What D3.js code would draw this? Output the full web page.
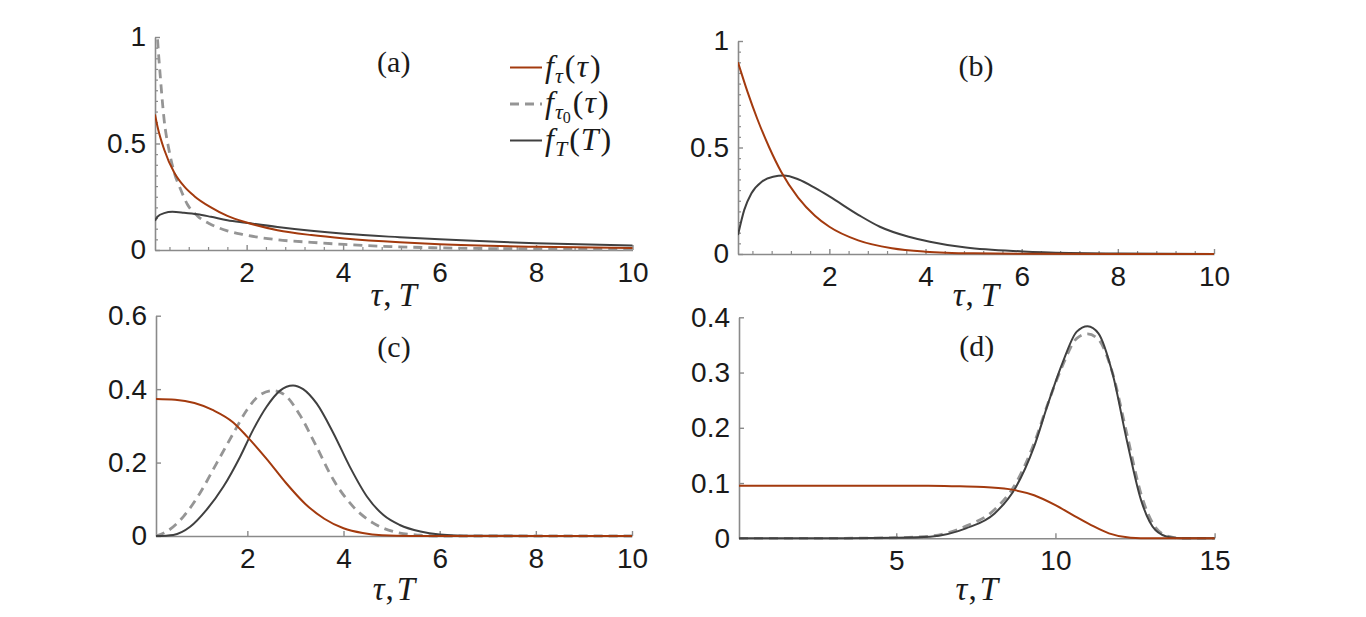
<!DOCTYPE html>
<html>
<head>
<meta charset="utf-8">
<script src="https://cdn.jsdelivr.net/npm/d3@7"></script>
<style>
  body { margin: 0; background: #fff; }
  svg text { fill: #1a1a1a; }
</style>
</head>
<body>
<svg id="chart" width="1366" height="617"></svg>
<script>
/* Four panels of densities f_tau(tau), f_tau0(tau), f_T(T) */

// panel (a)
const aRedX = [0.1, 0.15, 0.29, 0.5, 0.7, 0.91, 1.26, 1.6, 2.0, 2.64, 3.34, 4.03, 5.17, 6, 8, 10];
const aRedY = [0.636, 0.581, 0.472, 0.363, 0.3, 0.254, 0.2, 0.16, 0.129, 0.093, 0.07, 0.054, 0.036, 0.027, 0.015, 0.009];
const aDashX = [0.1, 0.15, 0.215, 0.29, 0.39, 0.5, 0.63, 0.77, 0.98, 1.26, 1.6, 1.94, 2.64, 3.34, 4.03, 5, 6, 8, 10];
const aDashY = [1.2, 1.0, 0.8, 0.61, 0.47, 0.363, 0.285, 0.215, 0.16, 0.12, 0.09, 0.072, 0.048, 0.036, 0.026, 0.016, 0.01, 0.005, 0.003];
const aBlackX = [0.1, 0.15, 0.29, 0.46, 0.7, 0.98, 1.26, 1.6, 1.98, 2.64, 3.34, 4.03, 5.17, 6, 8, 10];
const aBlackY = [0.137, 0.156, 0.173, 0.179, 0.175, 0.168, 0.156, 0.14, 0.128, 0.108, 0.09, 0.076, 0.06, 0.05, 0.032, 0.021];

// panel (b)
const bRedX = [0.1, 0.3, 0.5, 0.75, 1.0, 1.35, 1.7, 2.0, 2.6, 3.3, 4.0, 5.0, 6.0, 8.0, 10];
const bRedY = [0.9, 0.76, 0.635, 0.5, 0.385, 0.265, 0.18, 0.128, 0.064, 0.027, 0.011, 0.003, 0.001, 0, 0];
const bBlackX = [0.1, 0.23, 0.38, 0.6, 0.83, 1.05, 1.35, 1.72, 2.01, 2.61, 3.05, 3.65, 4.09, 4.84, 6.03, 7, 8, 10];
const bBlackY = [0.089, 0.207, 0.285, 0.34, 0.363, 0.368, 0.351, 0.308, 0.269, 0.183, 0.128, 0.081, 0.058, 0.03, 0.012, 0.005, 0.002, 0];

// panel (c)
const cRedX = [0.1, 0.5, 0.9, 1.3, 1.7, 2.0, 2.4, 2.8, 3.2, 3.6, 4.0, 4.4, 4.8, 5.4, 6.0, 8.0, 10];
const cRedY = [0.373, 0.371, 0.362, 0.342, 0.31, 0.27, 0.21, 0.145, 0.088, 0.047, 0.021, 0.008, 0.002, 0, 0, 0, 0];
const cDashX = [0.1, 0.32, 0.67, 1.01, 1.36, 1.71, 1.99, 2.26, 2.54, 2.78, 3.09, 3.44, 3.79, 4.2, 4.62, 5.1, 5.6, 6.0, 8.0, 10];
const cDashY = [0, 0.012, 0.053, 0.116, 0.198, 0.28, 0.343, 0.384, 0.396, 0.384, 0.33, 0.243, 0.153, 0.08, 0.035, 0.01, 0.002, 0, 0, 0];
const cBlackX = [0.1, 0.46, 0.81, 1.15, 1.5, 1.85, 2.12, 2.4, 2.68, 2.95, 3.16, 3.44, 3.79, 4.13, 4.49, 4.83, 5.17, 5.6, 6.0, 6.5, 8.0, 10];
const cBlackY = [0, 0.003, 0.025, 0.071, 0.134, 0.216, 0.289, 0.352, 0.396, 0.41, 0.4, 0.361, 0.28, 0.189, 0.107, 0.057, 0.03, 0.012, 0.004, 0.001, 0, 0];

// panel (d)
const dRedX = [0.06, 3, 6, 7.0, 7.75, 8.54, 9.33, 10.0, 10.55, 11.12, 11.68, 12.36, 13, 15];
const dRedY = [0.095, 0.095, 0.095, 0.094, 0.093, 0.089, 0.078, 0.06, 0.042, 0.024, 0.009, 0.001, 0, 0];
const dDashX = [0.06, 3, 5, 6.06, 7.19, 8.09, 8.76, 9.33, 9.77, 10.22, 10.67, 11.01, 11.35, 11.79, 12.24, 12.69, 13.14, 13.59, 14, 15];
const dDashY = [0, 0, 0.001, 0.004, 0.022, 0.052, 0.1, 0.172, 0.245, 0.312, 0.362, 0.37, 0.36, 0.3, 0.19, 0.08, 0.02, 0.003, 0, 0];
const dBlackX = [0.06, 3, 5, 6.06, 7.19, 8.09, 8.76, 9.33, 9.77, 10.22, 10.67, 11.01, 11.35, 11.79, 12.24, 12.69, 13.14, 13.59, 14, 15];
const dBlackY = [0, 0, 0.001, 0.003, 0.018, 0.045, 0.093, 0.166, 0.244, 0.317, 0.374, 0.384, 0.371, 0.299, 0.178, 0.069, 0.015, 0.002, 0, 0];

// tick labels
const xTicks10 = [2, 4, 6, 8, 10];
const xTicks15 = [5, 10, 15];
const yTicksAB = [0, 0.5, 1];
const yTicksC = [0, 0.2, 0.4, 0.6];
const yTicksD = [0, 0.1, 0.2, 0.3, 0.4];

const RED = '#a33a0e';
const DARK = '#404040';
const GREY = '#959595';
const AXIS = '#8a8a8a';
const SANS = 'Liberation Sans, Arial, sans-serif';
const SERIF = 'Liberation Serif, serif';

const zip = (xs, ys) => xs.map((x, i) => [x, ys[i]]);

const panels = [
  { id: 'a', label: '(a)', xr: [155, 632.5], xd: [0.1, 10], yr: [250, 37], yd: [0, 1],
    xt: xTicks10, yt: yTicksAB, minorX: d3.range(0.4, 10, 0.4), minorY: d3.range(0.05, 1, 0.05),
    gap: 7, labelY: 72, axisLabY: 306,
    red: zip(aRedX, aRedY), dash: zip(aDashX, aDashY), dark: zip(aBlackX, aBlackY) },
  { id: 'b', label: '(b)', xr: [738, 1214], xd: [0.1, 10], yr: [254, 41], yd: [0, 1],
    xt: xTicks10, yt: yTicksAB, minorX: d3.range(0.4, 10, 0.4), minorY: d3.range(0.05, 1, 0.05),
    gap: 7, labelY: 76, axisLabY: 306,
    red: zip(bRedX, bRedY), dash: null, dark: zip(bBlackX, bBlackY) },
  { id: 'c', label: '(c)', xr: [156, 632], xd: [0.1, 10], yr: [536, 315.7], yd: [0, 0.6],
    xt: xTicks10, yt: yTicksC, minorX: [], minorY: [],
    gap: 3, labelY: 357, axisLabY: 600,
    red: zip(cRedX, cRedY), dash: zip(cDashX, cDashY), dark: zip(cBlackX, cBlackY) },
  { id: 'd', label: '(d)', xr: [739, 1214.6], xd: [0.06, 15], yr: [538.3, 317.3], yd: [0, 0.4],
    xt: xTicks15, yt: yTicksD, minorX: [], minorY: [],
    gap: 3, labelY: 356, axisLabY: 600,
    red: zip(dRedX, dRedY), dash: zip(dDashX, dDashY), dark: zip(dBlackX, dBlackY) }
];

const svg = d3.select('svg#chart');

panels.forEach((p) => {
  const x = d3.scaleLinear().domain(p.xd).range(p.xr);
  const y = d3.scaleLinear().domain(p.yd).range(p.yr);
  const g = svg.append('g').attr('class', 'panel-' + p.id);

  // clip the curves to the plot box
  g.append('clipPath').attr('id', 'clip-' + p.id)
    .append('rect')
    .attr('x', p.xr[0]).attr('y', p.yr[1])
    .attr('width', p.xr[1] - p.xr[0] + 2).attr('height', p.yr[0] - p.yr[1] + 2);

  // minor ticks first, without labels
  g.append('g')
    .attr('transform', `translate(0,${p.yr[0]})`)
    .call(d3.axisBottom(x).tickValues(p.minorX.filter((v) => Math.abs(v / 2 - Math.round(v / 2)) > 0.01))
      .tickSizeInner(-3).tickSizeOuter(0).tickFormat(''))
    .call((a) => a.select('.domain').remove())
    .call((a) => a.selectAll('line').attr('stroke', AXIS).attr('stroke-width', 1.2));
  g.append('g')
    .attr('transform', `translate(${p.xr[0]},0)`)
    .call(d3.axisLeft(y).tickValues(p.minorY.filter((v) => Math.abs(v * 2 - Math.round(v * 2)) > 0.01))
      .tickSizeInner(-3).tickSizeOuter(0).tickFormat(''))
    .call((a) => a.select('.domain').remove())
    .call((a) => a.selectAll('line').attr('stroke', AXIS).attr('stroke-width', 1.2));

  // major axes
  g.append('g')
    .attr('transform', `translate(0,${p.yr[0]})`)
    .call(d3.axisBottom(x).tickValues(p.xt).tickSizeInner(-5).tickSizeOuter(0).tickPadding(12)
      .tickFormat((d) => String(d)))
    .call((a) => a.select('.domain').attr('stroke', AXIS).attr('stroke-width', 1.6))
    .call((a) => a.selectAll('line').attr('stroke', AXIS).attr('stroke-width', 1.4))
    .call((a) => a.selectAll('text').attr('font-family', SANS).attr('font-size', 28).attr('fill', '#1a1a1a'));
  g.append('g')
    .attr('transform', `translate(${p.xr[0]},0)`)
    .call(d3.axisLeft(y).tickValues(p.yt).tickSizeInner(-5).tickSizeOuter(0).tickPadding(9)
      .tickFormat((d) => String(d)))
    .call((a) => a.select('.domain').attr('stroke', AXIS).attr('stroke-width', 1.6))
    .call((a) => a.selectAll('line').attr('stroke', AXIS).attr('stroke-width', 1.4))
    .call((a) => a.selectAll('text').attr('font-family', SANS).attr('font-size', 28).attr('fill', '#1a1a1a'));

  const line = d3.line()
    .x((d) => x(d[0]))
    .y((d) => y(d[1]))
    .curve(d3.curveMonotoneX);

  const curves = g.append('g').attr('clip-path', `url(#clip-${p.id})`);
  if (p.dash) {
    curves.append('path').datum(p.dash)
      .attr('d', line).attr('fill', 'none')
      .attr('stroke', GREY).attr('stroke-width', 2.8).attr('stroke-dasharray', '9,6');
  }
  curves.append('path').datum(p.dark)
    .attr('d', line).attr('fill', 'none')
    .attr('stroke', DARK).attr('stroke-width', 2);
  curves.append('path').datum(p.red)
    .attr('d', line).attr('fill', 'none')
    .attr('stroke', RED).attr('stroke-width', 2);

  // panel letter
  g.append('text')
    .attr('x', (p.xr[0] + p.xr[1]) / 2)
    .attr('y', p.labelY)
    .attr('text-anchor', 'middle')
    .attr('font-family', SERIF)
    .attr('font-size', 30)
    .text(p.label);

  // x axis label, italic symbols
  const xl = g.append('text')
    .attr('x', (p.xr[0] + p.xr[1]) / 2)
    .attr('y', p.axisLabY)
    .attr('text-anchor', 'middle')
    .attr('font-family', SERIF)
    .attr('font-size', 33);
  xl.append('tspan').attr('font-style', 'italic').text('τ');
  xl.append('tspan').attr('dx', 1).text(',');
  xl.append('tspan').attr('dx', p.gap).attr('font-style', 'italic').text('T');
});

// legend in panel (a)
const legendNames = [
  { sub: 'τ', sub2: '', arg: 'τ', color: RED, dash: null },
  { sub: 'τ', sub2: '0', arg: 'τ', color: GREY, dash: '9,6' },
  { sub: 'T', sub2: '', arg: 'T', color: DARK, dash: null }
];
const legendRows = [67.5, 104, 140.5];

const legend = svg.append('g').attr('class', 'legend');
legendNames.forEach((d, i) => {
  legend.append('line')
    .attr('x1', 510).attr('x2', 542)
    .attr('y1', legendRows[i]).attr('y2', legendRows[i])
    .attr('stroke', d.color)
    .attr('stroke-width', d.dash ? 2.8 : 2)
    .attr('stroke-dasharray', d.dash);
  const t = legend.append('text')
    .attr('x', 545)
    .attr('y', legendRows[i] + 9)
    .attr('font-family', SERIF)
    .attr('font-size', 32);
  t.append('tspan').attr('font-style', 'italic').text('f');
  t.append('tspan').attr('font-style', 'italic').attr('font-size', 22).attr('dy', 6).attr('dx', 1).text(d.sub);
  if (d.sub2) t.append('tspan').attr('font-size', 16).attr('dy', 4).text(d.sub2);
  t.append('tspan').attr('dy', d.sub2 ? -10 : -6).attr('dx', 2).text('(');
  t.append('tspan').attr('font-style', 'italic').attr('dx', 1).text(d.arg);
  t.append('tspan').attr('dx', 2).text(')');
});
</script>
</body>
</html>
